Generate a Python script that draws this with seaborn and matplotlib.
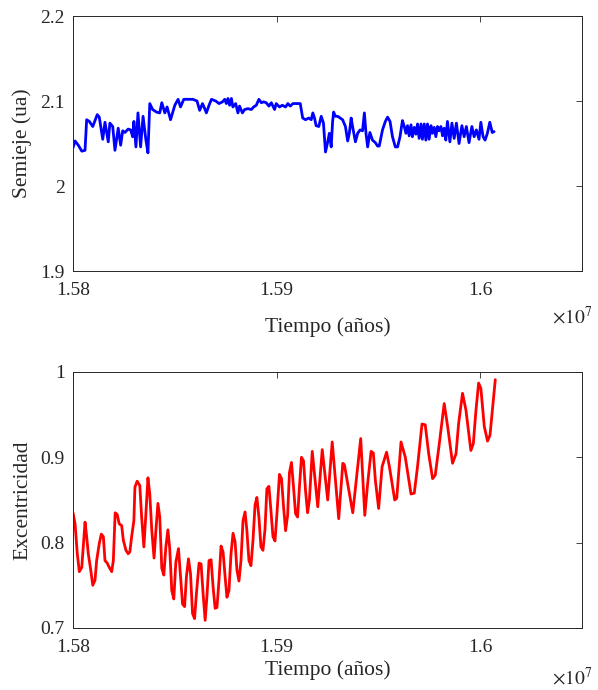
import numpy as np
import pandas as pd
import matplotlib
matplotlib.use("Agg")
import matplotlib.pyplot as plt
from matplotlib.ticker import FuncFormatter
import seaborn as sns

# tiempo en unidades de 1e7 años
t_semieje = [
    1.58000, 1.58010, 1.58026, 1.58043, 1.58059, 1.58067, 1.58080, 1.58097, 1.58119, 1.58129,
    1.58146, 1.58157, 1.58173, 1.58181, 1.58195, 1.58206, 1.58222, 1.58234, 1.58244, 1.58255,
    1.58271, 1.58283, 1.58293, 1.58299, 1.58309, 1.58319, 1.58332, 1.58344, 1.58358, 1.58368,
    1.58377, 1.58391, 1.58410, 1.58426, 1.58436, 1.58451, 1.58462, 1.58479, 1.58500, 1.58516,
    1.58528, 1.58544, 1.58557, 1.58589, 1.58609, 1.58622, 1.58636, 1.58647, 1.58655, 1.58668,
    1.58680, 1.58701, 1.58717, 1.58734, 1.58745, 1.58753, 1.58761, 1.58769, 1.58778, 1.58785,
    1.58799, 1.58810, 1.58818, 1.58832, 1.58843, 1.58859, 1.58876, 1.58887, 1.58900, 1.58913,
    1.58925, 1.58936, 1.58949, 1.58962, 1.58974, 1.58990, 1.58998, 1.59014, 1.59028, 1.59044,
    1.59055, 1.59067, 1.59080, 1.59099, 1.59116, 1.59128, 1.59142, 1.59158, 1.59170, 1.59178,
    1.59186, 1.59194, 1.59207, 1.59219, 1.59230, 1.59240, 1.59251, 1.59259, 1.59268, 1.59275,
    1.59280, 1.59289, 1.59300, 1.59312, 1.59324, 1.59338, 1.59349, 1.59357, 1.59366, 1.59373,
    1.59387, 1.59398, 1.59410, 1.59422, 1.59431, 1.59439, 1.59447, 1.59458, 1.59471, 1.59485,
    1.59496, 1.59504, 1.59520, 1.59534, 1.59545, 1.59557, 1.59569, 1.59583, 1.59594, 1.59606,
    1.59618, 1.59627, 1.59635, 1.59643, 1.59651, 1.59660, 1.59667, 1.59676, 1.59684, 1.59692,
    1.59700, 1.59709, 1.59716, 1.59725, 1.59733, 1.59741, 1.59749, 1.59758, 1.59765, 1.59774,
    1.59782, 1.59790, 1.59798, 1.59807, 1.59815, 1.59823, 1.59831, 1.59839, 1.59851, 1.59861,
    1.59872, 1.59883, 1.59896, 1.59910, 1.59921, 1.59932, 1.59945, 1.59959, 1.59970, 1.59981,
    1.59994, 1.60003, 1.60014, 1.60024, 1.60035, 1.60047, 1.60059, 1.60068,
]
semieje = [
    2.045, 2.053, 2.048, 2.041, 2.042, 2.078, 2.076, 2.070, 2.084, 2.081,
    2.055, 2.075, 2.052, 2.074, 2.070, 2.042, 2.068, 2.048, 2.065, 2.063,
    2.067, 2.066, 2.058, 2.076, 2.046, 2.086, 2.046, 2.082, 2.054, 2.039,
    2.097, 2.090, 2.087, 2.086, 2.098, 2.086, 2.093, 2.078, 2.095, 2.102,
    2.093, 2.102, 2.102, 2.102, 2.100, 2.089, 2.097, 2.091, 2.086, 2.095,
    2.102, 2.100, 2.097, 2.099, 2.102, 2.097, 2.103, 2.095, 2.103, 2.093,
    2.097, 2.086, 2.094, 2.086, 2.090, 2.091, 2.090, 2.093, 2.095, 2.102,
    2.098, 2.099, 2.098, 2.094, 2.098, 2.090, 2.097, 2.093, 2.095, 2.093,
    2.097, 2.094, 2.097, 2.097, 2.097, 2.080, 2.078, 2.080, 2.078, 2.086,
    2.080, 2.071, 2.070, 2.082, 2.074, 2.040, 2.052, 2.062, 2.046, 2.076,
    2.087, 2.082, 2.082, 2.080, 2.078, 2.070, 2.053, 2.062, 2.080, 2.070,
    2.052, 2.062, 2.066, 2.065, 2.086, 2.062, 2.046, 2.063, 2.054, 2.051,
    2.047, 2.047, 2.066, 2.076, 2.081, 2.076, 2.058, 2.046, 2.046, 2.058,
    2.077, 2.070, 2.062, 2.071, 2.059, 2.072, 2.058, 2.069, 2.061, 2.073,
    2.056, 2.073, 2.055, 2.073, 2.054, 2.073, 2.055, 2.071, 2.062, 2.069,
    2.058, 2.070, 2.065, 2.070, 2.059, 2.068, 2.054, 2.076, 2.052, 2.074,
    2.056, 2.074, 2.050, 2.071, 2.058, 2.070, 2.051, 2.070, 2.058, 2.066,
    2.055, 2.075, 2.058, 2.054, 2.062, 2.075, 2.063, 2.064,
]

t_excentricidad = [
    1.58000, 1.58010, 1.58021, 1.58031, 1.58043, 1.58054, 1.58059, 1.58067, 1.58075, 1.58087,
    1.58097, 1.58108, 1.58116, 1.58129, 1.58139, 1.58149, 1.58157, 1.58168, 1.58178, 1.58190,
    1.58198, 1.58207, 1.58217, 1.58227, 1.58239, 1.58247, 1.58260, 1.58271, 1.58279, 1.58288,
    1.58299, 1.58304, 1.58315, 1.58328, 1.58337, 1.58348, 1.58358, 1.58368, 1.58377, 1.58387,
    1.58398, 1.58407, 1.58417, 1.58426, 1.58436, 1.58446, 1.58456, 1.58466, 1.58475, 1.58485,
    1.58495, 1.58505, 1.58518, 1.58528, 1.58538, 1.58548, 1.58557, 1.58567, 1.58577, 1.58587,
    1.58597, 1.58606, 1.58619, 1.58629, 1.58639, 1.58649, 1.58658, 1.58668, 1.58678, 1.58688,
    1.58698, 1.58707, 1.58717, 1.58727, 1.58737, 1.58747, 1.58756, 1.58766, 1.58776, 1.58786,
    1.58796, 1.58805, 1.58815, 1.58825, 1.58835, 1.58845, 1.58854, 1.58864, 1.58874, 1.58884,
    1.58894, 1.58903, 1.58913, 1.58923, 1.58933, 1.58943, 1.58952, 1.58962, 1.58972, 1.58982,
    1.58992, 1.59001, 1.59014, 1.59024, 1.59034, 1.59044, 1.59054, 1.59063, 1.59073, 1.59083,
    1.59093, 1.59103, 1.59112, 1.59122, 1.59132, 1.59142, 1.59152, 1.59161, 1.59175, 1.59202,
    1.59224, 1.59251, 1.59273, 1.59305, 1.59325, 1.59333, 1.59349, 1.59374, 1.59393, 1.59413,
    1.59433, 1.59447, 1.59464, 1.59475, 1.59485, 1.59501, 1.59518, 1.59540, 1.59554, 1.59580,
    1.59590, 1.59611, 1.59632, 1.59660, 1.59676, 1.59692, 1.59714, 1.59730, 1.59747, 1.59766,
    1.59779, 1.59799, 1.59823, 1.59840, 1.59864, 1.59881, 1.59894, 1.59913, 1.59930, 1.59954,
    1.59966, 1.59979, 1.59992, 1.60003, 1.60020, 1.60036, 1.60048, 1.60074,
]
excentricidad = [
    0.835, 0.822, 0.787, 0.766, 0.771, 0.807, 0.824, 0.807, 0.787, 0.768,
    0.750, 0.756, 0.779, 0.799, 0.810, 0.807, 0.779, 0.776, 0.771, 0.766,
    0.779, 0.835, 0.833, 0.822, 0.820, 0.803, 0.791, 0.787, 0.789, 0.807,
    0.826, 0.865, 0.872, 0.867, 0.830, 0.795, 0.834, 0.876, 0.857, 0.814,
    0.782, 0.814, 0.846, 0.830, 0.770, 0.762, 0.795, 0.815, 0.793, 0.744,
    0.734, 0.777, 0.793, 0.760, 0.728, 0.725, 0.760, 0.781, 0.764, 0.717,
    0.711, 0.740, 0.776, 0.775, 0.740, 0.709, 0.738, 0.779, 0.780, 0.748,
    0.723, 0.724, 0.756, 0.796, 0.789, 0.760, 0.736, 0.744, 0.787, 0.811,
    0.801, 0.768, 0.755, 0.779, 0.826, 0.836, 0.814, 0.779, 0.773, 0.803,
    0.844, 0.853, 0.830, 0.795, 0.791, 0.816, 0.863, 0.866, 0.838, 0.807,
    0.802, 0.832, 0.880, 0.875, 0.842, 0.814, 0.832, 0.882, 0.894, 0.865,
    0.834, 0.830, 0.865, 0.900, 0.896, 0.861, 0.835, 0.850, 0.907, 0.842,
    0.909, 0.850, 0.918, 0.828, 0.893, 0.891, 0.869, 0.835, 0.877, 0.922,
    0.832, 0.869, 0.907, 0.905, 0.873, 0.840, 0.889, 0.906, 0.889, 0.850,
    0.852, 0.918, 0.900, 0.857, 0.858, 0.889, 0.939, 0.938, 0.904, 0.875,
    0.879, 0.916, 0.963, 0.936, 0.893, 0.904, 0.940, 0.975, 0.955, 0.908,
    0.916, 0.955, 0.987, 0.981, 0.936, 0.919, 0.926, 0.991,
]

x_ticks = [1.58, 1.59, 1.60]
y_ticks_semieje = [1.9, 2.0, 2.1, 2.2]
y_ticks_exc = [0.7, 0.8, 0.9, 1.0]

sns.set_style("white")
plt.rcParams["font.family"] = ["Liberation Serif", "DejaVu Serif"]
plt.rcParams["mathtext.fontset"] = "stix"

gris = "#262626"

fig = plt.figure(figsize=(5.98, 6.90), dpi=100)
ax1 = fig.add_axes([0.1221, 0.6072, 0.8512, 0.3696])
ax2 = fig.add_axes([0.1221, 0.0899, 0.8512, 0.3710])

df_a = pd.DataFrame({"t": np.array(t_semieje) * 1e7, "a": semieje})
df_e = pd.DataFrame({"t": np.array(t_excentricidad) * 1e7, "e": excentricidad})

sns.lineplot(data=df_a, x="t", y="a", ax=ax1, color="#0000ff", lw=2.0,
             estimator=None, sort=False)
sns.lineplot(data=df_e, x="t", y="e", ax=ax2, color="#ff0000", lw=2.0,
             estimator=None, sort=False)

fmt_x = FuncFormatter(lambda v, p: f"{v / 1e7:g}")
fmt_y = FuncFormatter(lambda v, p: f"{v:g}")

paneles = [
    (ax1, y_ticks_semieje, "Semieje (ua)", 13, -0.18),
    (ax2, y_ticks_exc, "Excentricidad", 3, -0.195),
]
for ax, yt, ylab, xpad, off_y in paneles:
    ax.set_xlim(1.58e7, 1.605e7)
    ax.set_ylim(yt[0], yt[-1])
    ax.set_xticks([v * 1e7 for v in x_ticks])
    ax.set_yticks(yt)
    ax.xaxis.set_major_formatter(fmt_x)
    ax.yaxis.set_major_formatter(fmt_y)
    ax.tick_params(direction="in", top=True, right=True, length=4, width=0.6,
                   colors=gris, labelsize=14)
    ax.tick_params(axis="x", pad=8)
    ax.tick_params(axis="y", pad=6)
    for s in ax.spines.values():
        s.set_color(gris)
        s.set_linewidth(0.7)
    ax.set_xlabel("Tiempo (años)", fontsize=15.5, color=gris, labelpad=xpad)
    ax.set_ylabel(ylab, fontsize=15.5, color=gris, labelpad=6)
    ax.text(1.02, off_y, r"$\times10^{7}$", transform=ax.transAxes,
            ha="right", va="center", fontsize=14, color=gris)

fig.savefig("out.png", dpi=100)
